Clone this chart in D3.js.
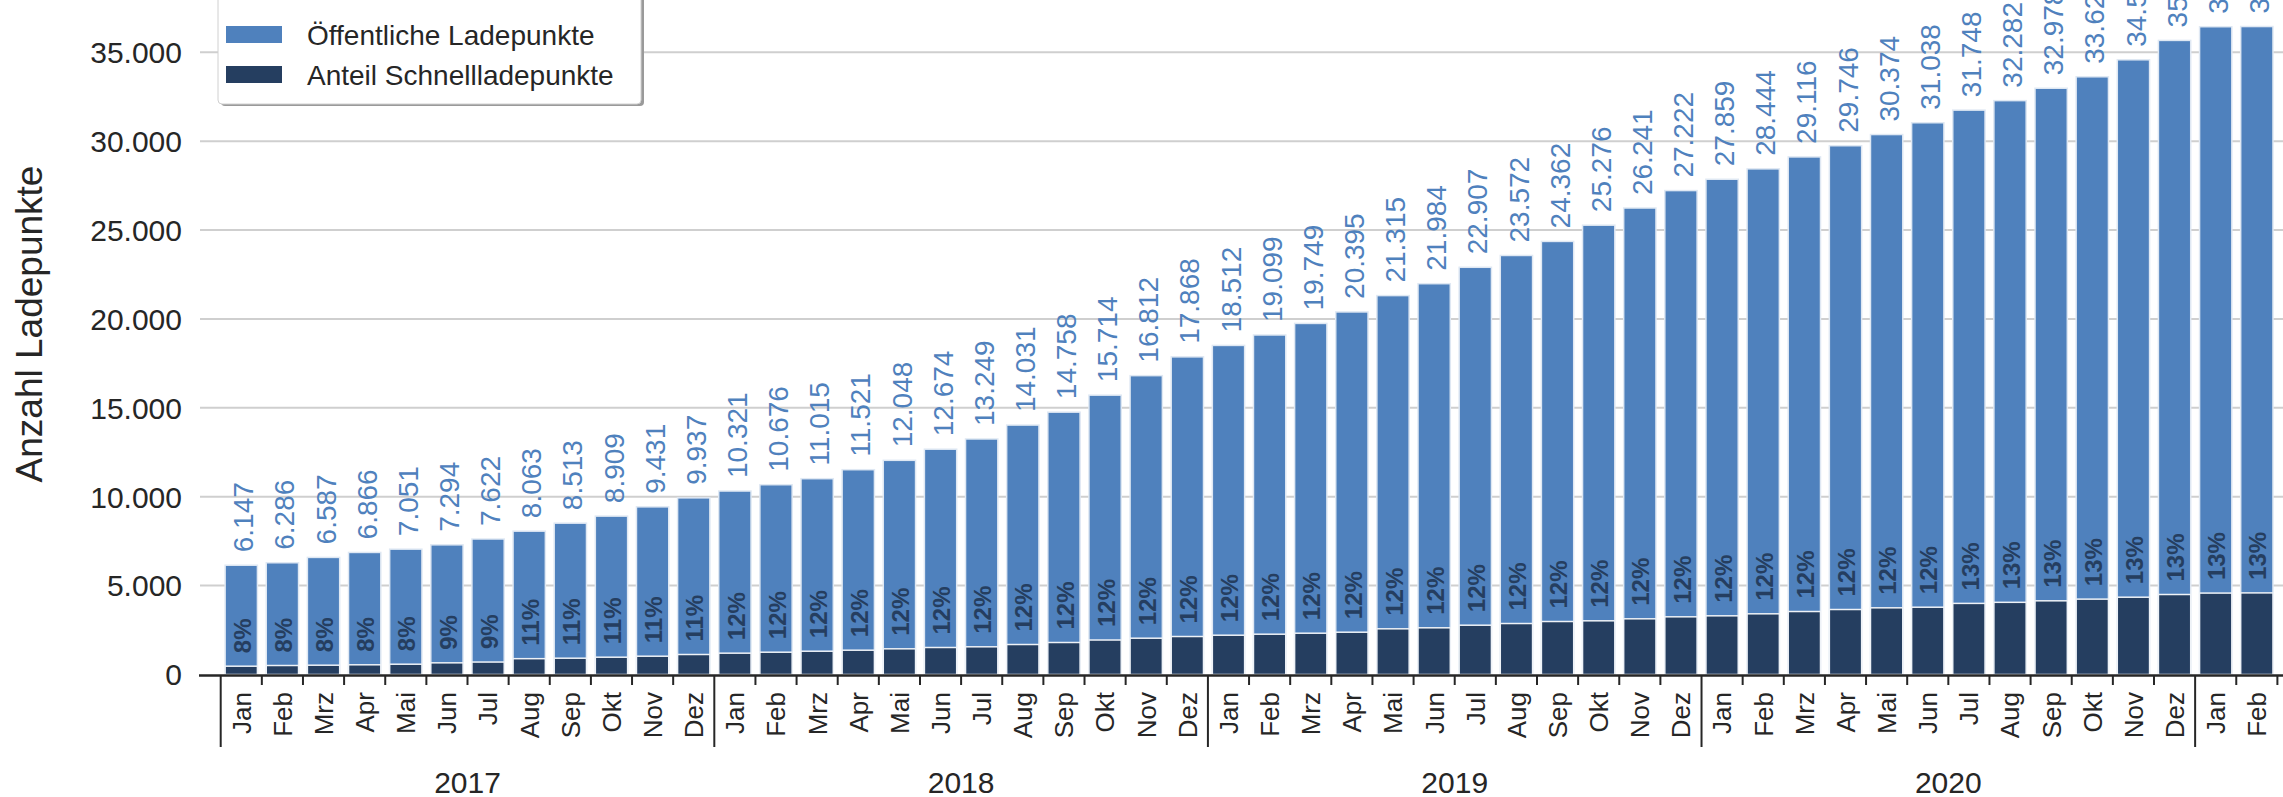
<!DOCTYPE html>
<html>
<head>
<meta charset="utf-8">
<script src="https://cdn.jsdelivr.net/npm/d3@7"></script>
<style>
  body { margin: 0; background: #fff; }
  svg { display: block; font-family: "Liberation Sans", Arial, sans-serif; }
</style>
</head>
<body>
<svg id="chart" width="2283" height="797"></svg>
<script>
// data
var monthNames = ["Jan", "Feb", "Mrz", "Apr", "Mai", "Jun", "Jul", "Aug", "Sep", "Okt", "Nov", "Dez"];
var years = [2017, 2018, 2019, 2020, 2021];
var yearLabels = ["2017", "2018", "2019", "2020"]; // 2021 has no label in the original

var oeffentlich = [
  6147, 6286, 6587, 6866, 7051, 7294, 7622, 8063, 8513, 8909, 9431, 9937,
  10321, 10676, 11015, 11521, 12048, 12674, 13249, 14031, 14758, 15714, 16812, 17868,
  18512, 19099, 19749, 20395, 21315, 21984, 22907, 23572, 24362, 25276, 26241, 27222,
  27859, 28444, 29116, 29746, 30374, 31038, 31748, 32282, 32978, 33624, 34580, 35670,
  36440, 36450
];
var schnell = [
  467, 506, 523, 546, 579, 656, 700, 890, 917, 973, 1029, 1125,
  1200, 1254, 1310, 1367, 1445, 1519, 1558, 1687, 1800, 1940, 2042, 2137,
  2210, 2267, 2323, 2379, 2570, 2627, 2773, 2868, 2981, 3020, 3133, 3245,
  3301, 3414, 3543, 3656, 3751, 3785, 4000, 4060, 4145, 4240, 4348, 4500,
  4580, 4590
];
var yTicks = [0, 5000, 10000, 15000, 20000, 25000, 30000, 35000];
var legendLabels = ["Öffentliche Ladepunkte", "Anteil Schnellladepunkte"];

// build category list (month + year)
var data = [];
for (var i = 0; i < oeffentlich.length; i++) {
  data.push({
    key: years[Math.floor(i / 12)] + "-" + i,
    month: monthNames[i % 12],
    year: years[Math.floor(i / 12)],
    total: oeffentlich[i],
    fast: schnell[i]
  });
}

var light = "#4f81bd", dark = "#253e60", ink = "#262626";
var de = d3.formatLocale({decimal: ",", thousands: ".", grouping: [3], currency: ["", " €"]});
var fmt = de.format(",d");

var svg = d3.select("#chart");

var x = d3.scaleBand()
  .domain(data.map(function(d) { return d.key; }))
  .range([220.7, 2277.4])
  .paddingInner(0.215)
  .paddingOuter(0.1075);

var y = d3.scaleLinear().domain([0, 37943]).range([674.5, 0]);

// gridlines + y tick labels
svg.append("g").selectAll("line")
  .data(yTicks.filter(function(t) { return t > 0; }))
  .enter().append("line")
  .attr("x1", 200).attr("x2", 2283)
  .attr("y1", function(d) { return y(d); })
  .attr("y2", function(d) { return y(d); })
  .attr("stroke", "#cfcfcf").attr("stroke-width", 2);

svg.append("g").selectAll("text")
  .data(yTicks)
  .enter().append("text")
  .attr("x", 182)
  .attr("y", function(d) { return y(d); })
  .attr("dy", "0.36em")
  .attr("text-anchor", "end")
  .attr("font-size", 30)
  .attr("fill", ink)
  .text(function(d) { return fmt(d); });

// y axis title
svg.append("text")
  .attr("transform", "translate(42,324) rotate(-90)")
  .attr("text-anchor", "middle")
  .attr("font-size", 37)
  .attr("fill", ink)
  .text("Anzahl Ladepunkte");

// bars: total first, fast-charging share drawn over it
var bars = svg.append("g");
bars.selectAll("rect.total")
  .data(data)
  .enter().append("rect")
  .attr("class", "total")
  .attr("x", function(d) { return x(d.key); })
  .attr("width", x.bandwidth())
  .attr("y", function(d) { return y(d.total); })
  .attr("height", function(d) { return y(0) - y(d.total); })
  .attr("fill", light)
  .attr("stroke", "#dfe8f3").attr("stroke-width", 1.5);

bars.selectAll("rect.fast")
  .data(data)
  .enter().append("rect")
  .attr("class", "fast")
  .attr("x", function(d) { return x(d.key); })
  .attr("width", x.bandwidth())
  .attr("y", function(d) { return y(d.fast); })
  .attr("height", function(d) { return y(0) - y(d.fast); })
  .attr("fill", dark)
  .attr("stroke", "#eef2f7").attr("stroke-width", 1.5);

// value labels above bars
svg.append("g").selectAll("text")
  .data(data)
  .enter().append("text")
  .attr("transform", function(d) {
    return "translate(" + (x(d.key) + x.bandwidth() / 2 + 2) + "," + (y(d.total) - 13) + ") rotate(-90)";
  })
  .attr("dy", "0.36em")
  .attr("font-size", 28)
  .attr("fill", light)
  .text(function(d) { return fmt(d.total); });

// share labels above the dark bars
svg.append("g").selectAll("text")
  .data(data)
  .enter().append("text")
  .attr("transform", function(d) {
    return "translate(" + (x(d.key) + x.bandwidth() / 2 + 1) + "," + (y(d.fast) - 13) + ") rotate(-90)";
  })
  .attr("dy", "0.36em")
  .attr("font-size", 24)
  .attr("font-weight", "bold")
  .attr("fill", dark)
  .text(function(d) { return Math.round(d.fast / d.total * 100) + "%"; });

// x axis line
svg.append("line")
  .attr("x1", 199).attr("x2", 2283)
  .attr("y1", 675.5).attr("y2", 675.5)
  .attr("stroke", ink).attr("stroke-width", 2.5);

// boundary ticks, longer at year starts
var half = x.step() * x.paddingInner() / 2;
var bounds = data.map(function(d, i) {
  return {pos: x(d.key) - half, yearStart: i % 12 === 0};
});
bounds.push({pos: x(data[data.length - 1].key) + x.bandwidth() + half, yearStart: false});

svg.append("g").selectAll("line")
  .data(bounds)
  .enter().append("line")
  .attr("x1", function(d) { return d.pos; })
  .attr("x2", function(d) { return d.pos; })
  .attr("y1", 675)
  .attr("y2", function(d) { return d.yearStart ? 747 : 685; })
  .attr("stroke", ink).attr("stroke-width", 2);

// month labels
svg.append("g").selectAll("text")
  .data(data)
  .enter().append("text")
  .attr("transform", function(d) {
    return "translate(" + (x(d.key) + x.bandwidth() / 2) + ",692) rotate(-90)";
  })
  .attr("dy", "0.36em")
  .attr("text-anchor", "end")
  .attr("font-size", 26)
  .attr("fill", ink)
  .text(function(d) { return d.month; });

// year labels, centred under each year's bars
svg.append("g").selectAll("text")
  .data(yearLabels)
  .enter().append("text")
  .attr("x", function(yl) {
    var inYear = data.filter(function(d) { return String(d.year) === yl; });
    var a = x(inYear[0].key), b = x(inYear[inYear.length - 1].key) + x.bandwidth();
    return (a + b) / 2;
  })
  .attr("y", 793)
  .attr("text-anchor", "middle")
  .attr("font-size", 30)
  .attr("fill", ink)
  .text(function(d) { return d; });

// legend
var legend = svg.append("g");
legend.append("rect")
  .attr("x", 221).attr("y", -6).attr("width", 423).attr("height", 112)
  .attr("rx", 4)
  .attr("fill", "#9a9a9a");
legend.append("rect")
  .attr("x", 218).attr("y", -8).attr("width", 423).attr("height", 112)
  .attr("rx", 4)
  .attr("fill", "#fff").attr("stroke", "#d0d0d0").attr("stroke-width", 1);

var li = legend.selectAll("g.item")
  .data(legendLabels)
  .enter().append("g")
  .attr("class", "item")
  .attr("transform", function(d, i) { return "translate(0," + (i * 40) + ")"; });
li.append("rect")
  .attr("x", 226).attr("y", 26).attr("width", 56).attr("height", 17)
  .attr("fill", function(d, i) { return i === 0 ? light : dark; });
li.append("text")
  .attr("x", 307).attr("y", 35)
  .attr("dy", "0.36em")
  .attr("font-size", 28)
  .attr("fill", ink)
  .text(function(d) { return d; });
</script>
</body>
</html>
